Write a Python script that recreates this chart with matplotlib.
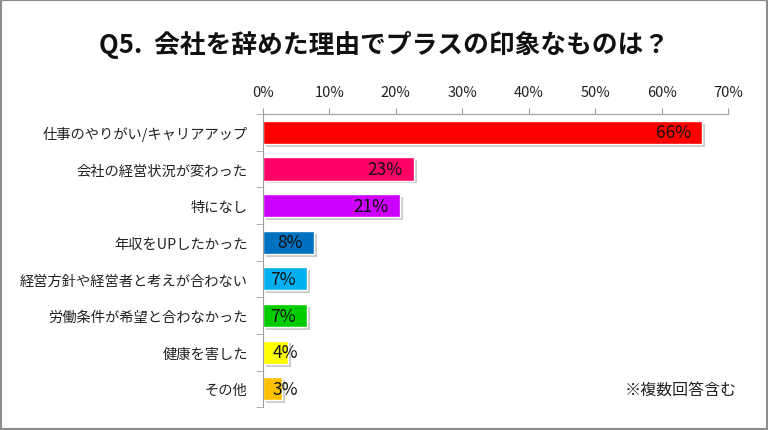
import matplotlib.pyplot as plt
import matplotlib.patheffects as pe
from matplotlib.patches import Rectangle
from matplotlib.transforms import offset_copy

plt.rcParams['font.family'] = ['Noto Sans CJK JP', 'DejaVu Sans']

categories = ['仕事のやりがい/キャリアアップ', '会社の経営状況が変わった', '特になし',
              '年収をUPしたかった', '経営方針や経営者と考えが合わない',
              '労働条件が希望と合わなかった', '健康を害した', 'その他']
values = [66.1, 22.7, 20.6, 7.7, 6.6, 6.6, 3.8, 2.9]
colors = ['#FF0000', '#FF0066', '#CC00FF', '#0070C0', '#00B0F0', '#00CC00', '#FFFF00', '#FFC000']
xticks = [0, 10, 20, 30, 40, 50, 60, 70]

fig = plt.figure(figsize=(7.68, 4.31), dpi=100)
fig.patches.append(Rectangle((0, 0), 1, 1, transform=fig.transFigure, fill=False,
                             edgecolor='#8c8c8c', linewidth=3))
ax = fig.add_axes([0.3424, 0.053, 0.6056, 0.68])

ypos = list(range(len(categories)))
bars = ax.barh(ypos, values, height=0.63, color=colors, edgecolor='white', linewidth=1)
for b in bars:
    b.set_path_effects([pe.SimplePatchShadow(offset=(2, -2), shadow_rgbFace='#999999', alpha=0.5),
                        pe.Normal()])

for y, v in zip(ypos, values):
    txt = f'{round(v)}%'
    if v >= 6:
        tr = offset_copy(ax.transData, fig=fig, x=-8, y=0, units='points')
        ax.text(v, y, txt, transform=tr, ha='right', va='center', fontsize=12.5, color='#111111')
    else:
        tr = offset_copy(ax.transData, fig=fig, x=7, y=0, units='points')
        ax.text(0, y, txt, transform=tr, ha='left', va='center', fontsize=12.5, color='#111111')

ax.set_xlim(0, 70)
ax.set_ylim(len(categories) - 0.5, -0.5)
ax.xaxis.tick_top()
ax.set_xticks(xticks)
ax.set_xticklabels([f'{t}%' for t in xticks])
ax.tick_params(axis='x', direction='out', length=4, color='#a0a0a0', labelsize=10.5, pad=7,
               labelcolor='#222222')
ax.set_yticks(ypos)
ax.set_yticklabels(categories)
ax.tick_params(axis='y', length=0, labelsize=10.3, pad=11, labelcolor='#222222')
ax.set_yticks([i - 0.5 for i in range(len(categories) + 1)], minor=True)
ax.tick_params(axis='y', which='minor', direction='out', length=5, color='#a0a0a0')

for s in ['right', 'bottom']:
    ax.spines[s].set_visible(False)
for s in ['top', 'left']:
    ax.spines[s].set_color('#a0a0a0')

fig.text(0.5, 0.895, 'Q5.  会社を辞めた理由でプラスの印象なものは？', ha='center', va='center',
         fontsize=18.5, fontweight='bold', color='#111111')
fig.text(0.96, 0.095, '※複数回答含む', ha='right', va='center', fontsize=11.5, color='#222222')

fig.savefig('out.png', dpi=100)
